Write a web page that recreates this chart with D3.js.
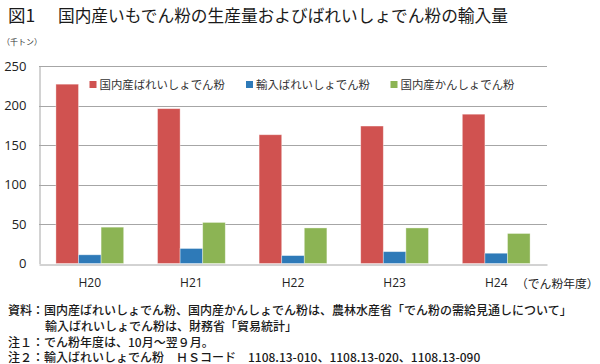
<!DOCTYPE html>
<html><head><meta charset="utf-8">
<script src="https://cdn.jsdelivr.net/npm/d3@7"></script>
<style>
html,body{margin:0;padding:0;background:#fff;}
svg{display:block;}
</style>
</head><body>
<svg id="chart" width="600" height="364"></svg>
<script>
// ---- data ----
const categories = ["H20", "H21", "H22", "H23", "H24"];
const seriesNames = ["国内産ばれいしょでん粉", "輸入ばれいしょでん粉", "国内産かんしょでん粉"];
const domesticPotato = [227, 196, 163, 174, 189];
const importedPotato = [11, 19, 10, 15, 13];
const domesticSweetPotato = [46, 52, 45, 45, 38];
const yTicks = [0, 50, 100, 150, 200, 250];
const colors = ["#d05250", "#2e7ab8", "#8cb454"];
const titleNo = "図1";
const titleText = "国内産いもでん粉の生産量およびばれいしょでん粉の輸入量";
const unitLabel = "（千トン）";
const xUnitLabel = "（でん粉年度）";
const notes = [
  "資料：国内産ばれいしょでん粉、国内産かんしょでん粉は、農林水産省「でん粉の需給見通しについて」",
  "輸入ばれいしょでん粉は、財務省「貿易統計」",
  "注１：でん粉年度は、10月～翌９月。",
  "注２：輸入ばれいしょでん粉　ＨＳコード　1108.13-010、1108.13-020、1108.13-090"
];

const seriesValues = [domesticPotato, importedPotato, domesticSweetPotato];
const table = categories.map((c, i) => ({cat: c, vals: seriesValues.map((s, k) => ({k, v: s[i]}))}));

const svg = d3.select("#chart");
const JP = "'Noto Sans CJK JP','Noto Sans',sans-serif";
const NUM = "'Open Sans','Noto Sans',sans-serif";

const pLeft = 39, pRight = 547, pTop = 66, pBottom = 263.5;

const x = d3.scaleBand().domain(categories).range([pLeft, pRight]).paddingInner(0.333).paddingOuter(0.1665);
const xs = d3.scaleBand().domain(d3.range(seriesNames.length)).range([0, x.bandwidth()]);
const y = d3.scaleLinear().domain([0, 250]).range([pBottom, pTop]);

// title
svg.append("text").attr("x", 8).attr("y", 21.5).attr("font-family", JP).attr("font-size", 17.5)
  .attr("fill", "#1a1a1a").text(titleNo);
svg.append("text").attr("x", 58).attr("y", 21.5).attr("font-family", JP).attr("font-size", 16.7)
  .attr("fill", "#1a1a1a").text(titleText);
svg.append("text").attr("x", 2).attr("y", 45).attr("font-family", JP).attr("font-size", 8)
  .attr("fill", "#333").text(unitLabel);

// gridlines
svg.append("g").selectAll("line").data(yTicks.filter(t => t > 0)).join("line")
  .attr("x1", pLeft).attr("x2", pRight)
  .attr("y1", d => Math.round(y(d)) + 0.5).attr("y2", d => Math.round(y(d)) + 0.5)
  .attr("stroke", "#a6a6a6").attr("stroke-width", 1);

// y axis
const yAxis = d3.axisLeft(y).tickValues(yTicks).tickSize(0).tickPadding(13);
const yg = svg.append("g").attr("transform", `translate(${pLeft + 0.5},0)`).call(yAxis);
yg.select(".domain").attr("stroke", "#a6a6a6");
yg.selectAll("text").attr("font-family", NUM).attr("font-size", 13).attr("fill", "#222");

// bars
const groups = svg.append("g").selectAll("g").data(table).join("g")
  .attr("transform", d => `translate(${x(d.cat)},0)`);
groups.selectAll("rect").data(d => d.vals).join("rect")
  .attr("x", d => xs(d.k))
  .attr("width", xs.bandwidth())
  .attr("y", d => y(d.v))
  .attr("height", d => y(0) - y(d.v))
  .attr("fill", d => colors[d.k])
  .attr("stroke", "rgba(255,255,255,0.45)").attr("stroke-width", 0.8);

// x axis
const xAxis = d3.axisBottom(x).tickSize(0).tickPadding(14);
const xg = svg.append("g").attr("transform", `translate(0,${Math.round(pBottom) + 0.5})`).call(xAxis);
xg.select(".domain").attr("stroke", "#a6a6a6");
xg.selectAll("text").attr("font-family", NUM).attr("font-size", 12).attr("fill", "#222");
svg.append("text").attr("x", 516).attr("y", 288).attr("font-family", JP).attr("font-size", 11.8)
  .attr("fill", "#222").text(xUnitLabel);

// legend
const legendX = [89.5, 246, 390.5];
const lg = svg.append("g").selectAll("g").data(seriesNames).join("g")
  .attr("transform", (d, i) => `translate(${legendX[i]},81)`);
lg.append("rect").attr("width", 7).attr("height", 7).attr("fill", (d, i) => colors[i]);
lg.append("text").attr("x", 10).attr("y", 8).attr("font-family", JP).attr("font-size", 11.4)
  .attr("fill", "#333").text(d => d);

// notes
const noteX = [8, 45, 8, 8];
const noteY = [315, 331, 346.5, 362];
svg.append("g").selectAll("text").data(notes).join("text")
  .attr("x", (d, i) => noteX[i]).attr("y", (d, i) => noteY[i])
  .attr("font-family", JP).attr("font-size", 12).attr("font-weight", 500)
  .attr("fill", "#1a1a1a").text(d => d);
</script>
</body></html>
